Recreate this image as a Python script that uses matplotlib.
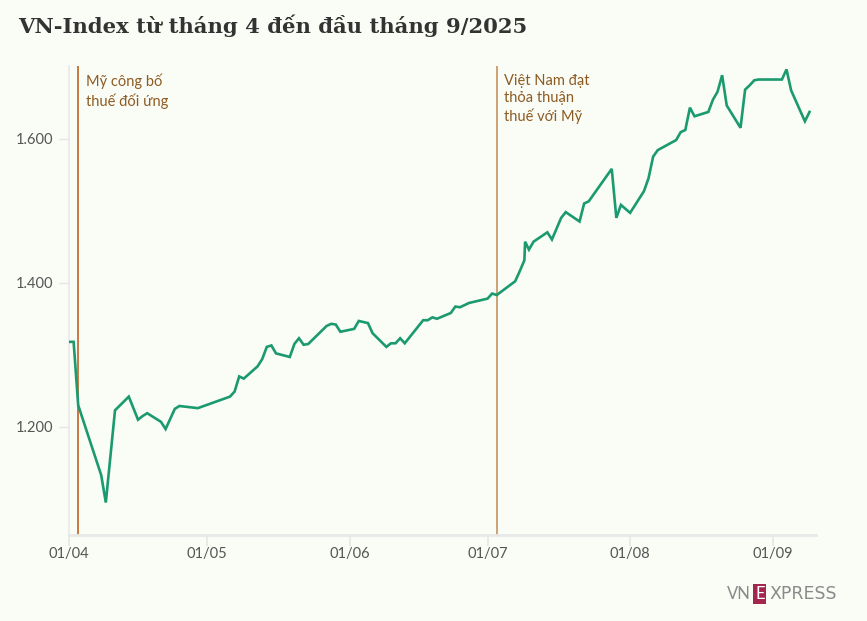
"""VN-Index from April to early September 2025, redrawn with matplotlib."""
import pandas as pd
import matplotlib.pyplot as plt

# index values (trading days; straight stretches left out)
dates = ['2025-04-01', '2025-04-02', '2025-04-03', '2025-04-08', '2025-04-09', '2025-04-11',
         '2025-04-14', '2025-04-16', '2025-04-17', '2025-04-18', '2025-04-21', '2025-04-22',
         '2025-04-24', '2025-04-25', '2025-04-29', '2025-05-06', '2025-05-07', '2025-05-08',
         '2025-05-09', '2025-05-12', '2025-05-13', '2025-05-14', '2025-05-15', '2025-05-16',
         '2025-05-19', '2025-05-20', '2025-05-21', '2025-05-22', '2025-05-23', '2025-05-27',
         '2025-05-28', '2025-05-29', '2025-05-30', '2025-06-02', '2025-06-03', '2025-06-05',
         '2025-06-06', '2025-06-09', '2025-06-10', '2025-06-11', '2025-06-12', '2025-06-13',
         '2025-06-17', '2025-06-18', '2025-06-19', '2025-06-20', '2025-06-23', '2025-06-24',
         '2025-06-25', '2025-06-27', '2025-07-01', '2025-07-02', '2025-07-03', '2025-07-07',
         '2025-07-08', '2025-07-09', '2025-07-09 04:00', '2025-07-10', '2025-07-11', '2025-07-14',
         '2025-07-15', '2025-07-17', '2025-07-18', '2025-07-21', '2025-07-22', '2025-07-23',
         '2025-07-28', '2025-07-29', '2025-07-30', '2025-08-01', '2025-08-04', '2025-08-05',
         '2025-08-06', '2025-08-07', '2025-08-11', '2025-08-12', '2025-08-13', '2025-08-14',
         '2025-08-15', '2025-08-18', '2025-08-19', '2025-08-20', '2025-08-21', '2025-08-22',
         '2025-08-25', '2025-08-26', '2025-08-27', '2025-08-28', '2025-08-29', '2025-09-03',
         '2025-09-04', '2025-09-05', '2025-09-08', '2025-09-09']
vn_index = [1318, 1318, 1230, 1133, 1095, 1223,
            1242, 1210, 1215, 1219, 1207, 1197,
            1225, 1229, 1226, 1242, 1249, 1270,
            1267, 1284, 1294, 1311, 1313, 1302,
            1297, 1315, 1323, 1314, 1315, 1340,
            1343, 1342, 1332, 1336, 1347, 1344,
            1330, 1311, 1316, 1316, 1323, 1316,
            1348, 1348, 1352, 1350, 1358, 1367,
            1366, 1372, 1378, 1385, 1383, 1402,
            1416, 1431, 1457, 1446, 1457, 1470,
            1460, 1490, 1498, 1485, 1510, 1513,
            1558, 1490, 1508, 1497, 1527, 1545,
            1575, 1584, 1598, 1609, 1612, 1643,
            1631, 1637, 1654, 1665, 1688, 1646,
            1615, 1668, 1674, 1681, 1682, 1682,
            1696, 1667, 1624, 1637]

# events marked with vertical lines
event_dates = ['2025-04-03', '2025-07-03']
event_labels = ['Mỹ công bố\nthuế đối ứng', 'Việt Nam đạt\nthỏa thuận\nthuế với Mỹ']

y_ticks = [1200, 1400, 1600]
y_tick_labels = ['1.200', '1.400', '1.600']
x_ticks = ['2025-04-01', '2025-05-01', '2025-06-01', '2025-07-01', '2025-08-01', '2025-09-01']
x_tick_labels = ['01/04', '01/05', '01/06', '01/07', '01/08', '01/09']

title = 'VN-Index từ tháng 4 đến đầu tháng 9/2025'

bg = '#fafcf6'
plt.rcParams['font.family'] = ['Lato', 'DejaVu Sans']

fig = plt.figure(figsize=(8.67, 6.21), dpi=100, facecolor=bg)
ax = fig.add_axes([0.0796, 0.1385, 0.8616, 0.7555], facecolor=bg)

x = pd.to_datetime(dates, format='mixed')
ax.plot(x, vn_index, color='#1b9a70', linewidth=1.9, solid_joinstyle='miter', zorder=3)

# event lines and their notes
line_colors = ['#bf6320', '#c4925e']
for d, lab, c in zip(pd.to_datetime(event_dates), event_labels, line_colors):
    ax.axvline(d, color=c, linewidth=1.2, zorder=2)
    ax.text(d + pd.Timedelta(hours=40), 1690, lab, ha='left', va='top', fontsize=10.5,
            color='#8e5b22', linespacing=1.3)

# axis limits
ax.set_xlim(pd.Timestamp('2025-04-01'), pd.Timestamp('2025-09-10 10:00'))
ax.set_ylim(1050, 1701)

# ticks
ax.set_yticks(y_ticks)
ax.set_yticklabels(y_tick_labels)
ax.set_xticks(pd.to_datetime(x_ticks))
ax.set_xticklabels(x_tick_labels)
ax.tick_params(axis='y', length=7, width=1, color='#e6e6e6', labelsize=10.5,
               labelcolor='#555555', pad=4)
ax.tick_params(axis='x', length=8, width=1.2, color='#e6e6e6', labelsize=10.5,
               labelcolor='#555555', pad=1)

# spines
for s in ['top', 'right']:
    ax.spines[s].set_visible(False)
ax.spines['left'].set_color('#e8e8e8')
ax.spines['left'].set_linewidth(1.2)
ax.spines['bottom'].set_color('#e8e8e8')
ax.spines['bottom'].set_linewidth(2)

# title
fig.text(0.021, 0.958, title, ha='left', va='center', fontsize=15.2, fontweight='bold',
         family='DejaVu Serif', color='#333333')

# logo
fig.text(0.8385, 0.0435, 'VN', ha='left', va='center', fontsize=12, color='#8a8a8a')
fig.text(0.8765, 0.0435, 'E', ha='center', va='center', fontsize=12, color='white',
         bbox=dict(boxstyle='square,pad=0.1', facecolor='#a3264f', edgecolor='none'))
fig.text(0.8875, 0.0435, 'XPRESS', ha='left', va='center', fontsize=12.5,
         family='DejaVu Sans', color='#8a8a8a')

fig.savefig('out.png', dpi=100, facecolor=bg)
